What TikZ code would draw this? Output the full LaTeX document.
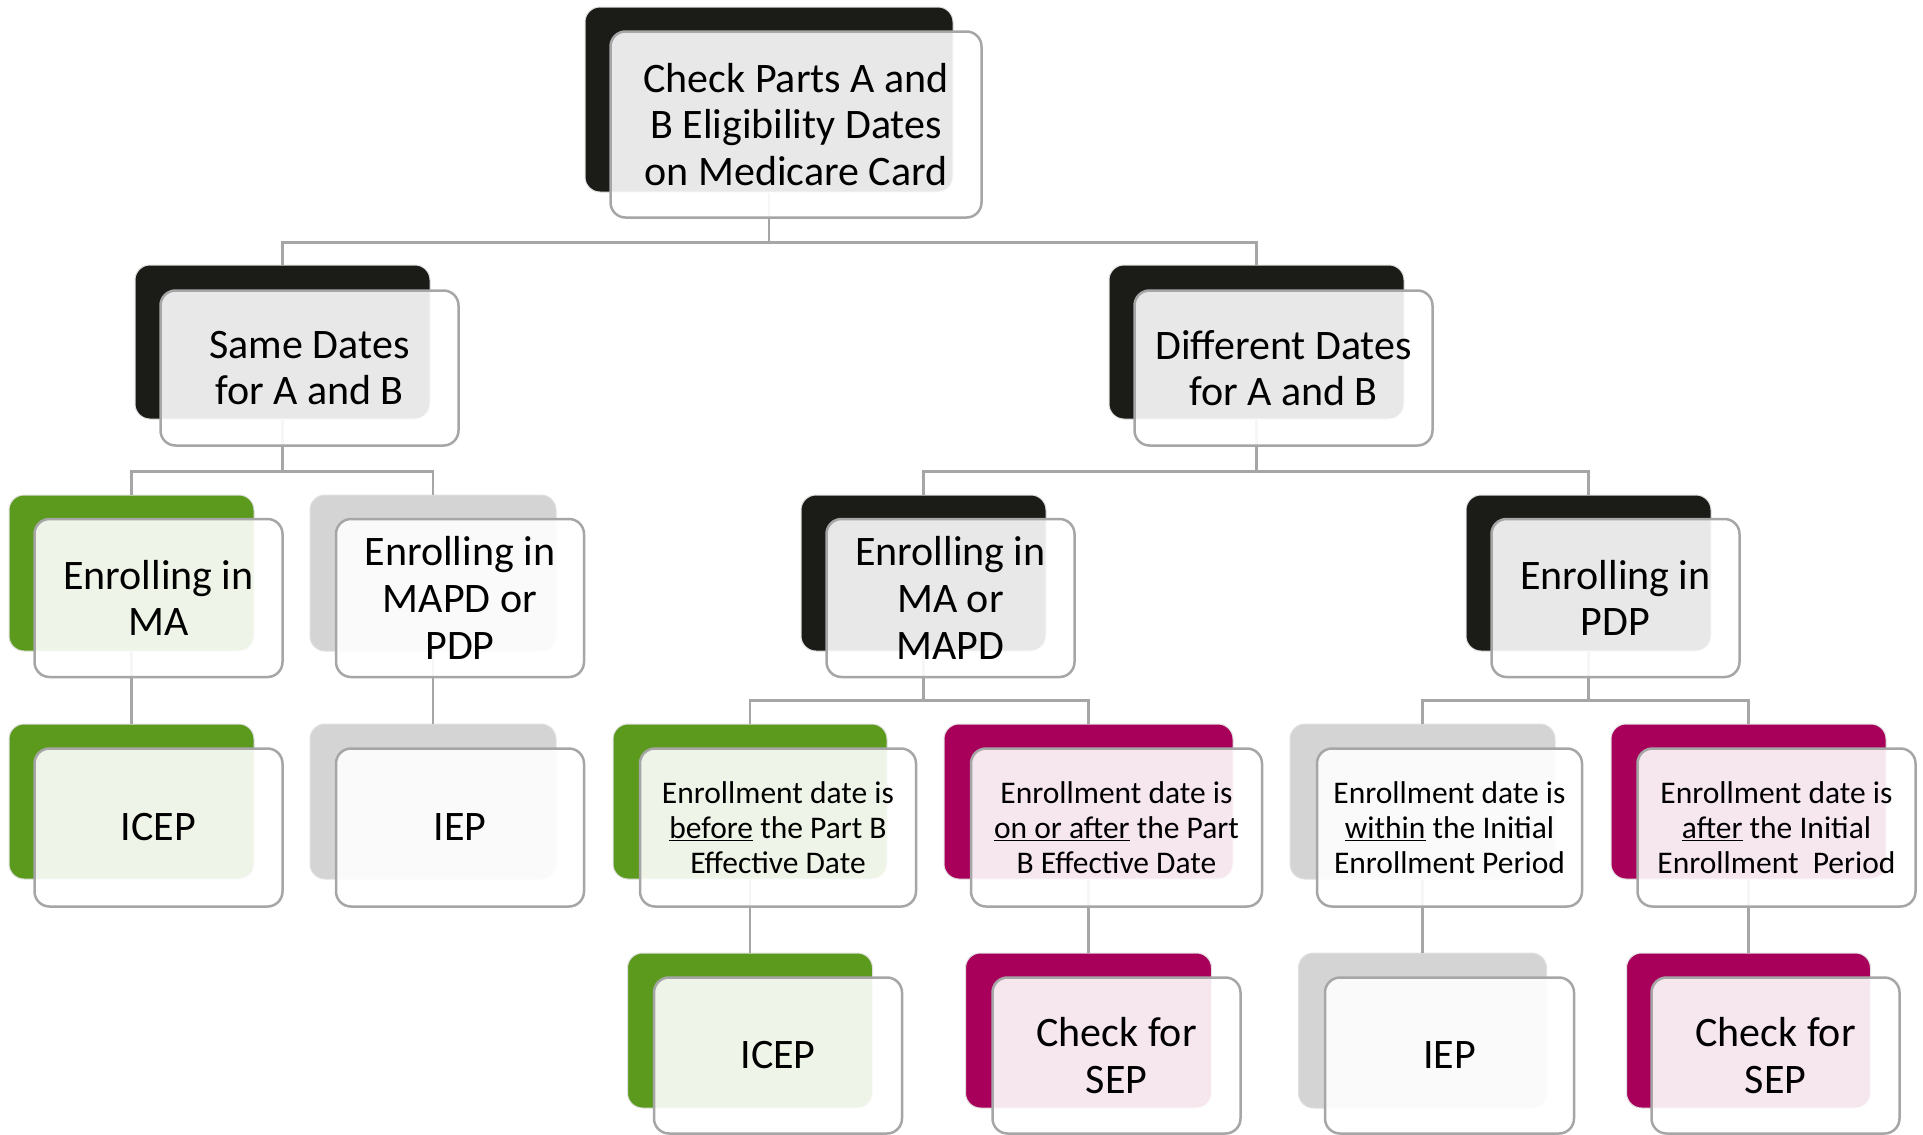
\documentclass[tikz,border=0pt]{standalone}
\usepackage{fontspec}
\setmainfont{Carlito}
\usetikzlibrary{positioning,calc}

\definecolor{cardblack}{HTML}{1B1B18}
\definecolor{cardgreen}{HTML}{5B9A1D}
\definecolor{cardpink}{HTML}{A8005A}
\definecolor{cardgray}{HTML}{D4D4D4}
\definecolor{rim}{HTML}{A6A6A6}

\begin{document}
\begin{tikzpicture}[x=1pt, y=-1pt,
  card/.style={rectangle, rounded corners=15pt, inner sep=0pt, draw=black!12, line width=1pt},
  face/.style={rectangle, rounded corners=15pt, draw=rim, line width=2.5pt, fill=white, fill opacity=0.9, text opacity=1, align=center, inner sep=0pt, font=\fontsize{42}{46.6}\selectfont},
  small/.style={font=\fontsize{31.5}{35}\selectfont},
  link/.style={draw=rim, line width=2.2pt}]
\useasboundingbox (0,0) rectangle (1923,1135);

% back cards
\node[card, fill=cardblack, minimum width=368pt, minimum height=185pt] (checkb) at (769,99.5) {};
\node[card, fill=cardblack, minimum width=295pt, minimum height=154pt] (sameb) at (282.5,342) {};
\node[card, fill=cardblack, minimum width=295pt, minimum height=154pt] (diffb) at (1256.5,342) {};
\node[card, fill=cardgreen, minimum width=245pt, minimum height=156pt] (mab) at (131.5,573) {};
\node[card, fill=cardgray, minimum width=246pt, minimum height=156pt] (mapdpdpb) at (433,573) {};
\node[card, fill=cardblack, minimum width=245pt, minimum height=156pt] (mamapdb) at (923.5,573) {};
\node[card, fill=cardblack, minimum width=245pt, minimum height=156pt] (pdpb) at (1588.5,573) {};
\node[card, fill=cardgreen, minimum width=245pt, minimum height=155pt] (icepb) at (131.5,801.5) {};
\node[card, fill=cardgray, minimum width=246pt, minimum height=155pt] (iepb) at (433,801.5) {};
\node[card, fill=cardgreen, minimum width=274pt, minimum height=155pt] (beforeb) at (750,801.5) {};
\node[card, fill=cardpink, minimum width=289pt, minimum height=155pt] (onafterb) at (1088.5,801.5) {};
\node[card, fill=cardgray, minimum width=265pt, minimum height=155pt] (withinb) at (1422.5,801.5) {};
\node[card, fill=cardpink, minimum width=275pt, minimum height=155pt] (afterb) at (1748.5,801.5) {};
\node[card, fill=cardgreen, minimum width=245pt, minimum height=155pt] (icepiib) at (750,1030.5) {};
\node[card, fill=cardpink, minimum width=246pt, minimum height=155pt] (sepb) at (1088.5,1030.5) {};
\node[card, fill=cardgray, minimum width=248pt, minimum height=155pt] (iepiib) at (1422.5,1030.5) {};
\node[card, fill=cardpink, minimum width=244pt, minimum height=155pt] (sepiib) at (1748.5,1030.5) {};

% connectors
\draw[link] (checkb.south) -- ++(0,50) -| (sameb.north);
\draw[link] (checkb.south) -- ++(0,50) -| (diffb.north);
\draw[link] (sameb.south) -- ++(0,52) -| (mab.north);
\draw[link] (sameb.south) -- ++(0,52) -| (mapdpdpb.north);
\draw[link] (diffb.south) -- ++(0,52) -| (mamapdb.north);
\draw[link] (diffb.south) -- ++(0,52) -| (pdpb.north);
\draw[link] (mab.south) -- (icepb.north);
\draw[link] (mapdpdpb.south) -- (iepb.north);
\draw[link] (mamapdb.south) -- ++(0,49) -| (beforeb.north);
\draw[link] (mamapdb.south) -- ++(0,49) -| (onafterb.north);
\draw[link] (pdpb.south) -- ++(0,49) -| (withinb.north);
\draw[link] (pdpb.south) -- ++(0,49) -| (afterb.north);
\draw[link] (beforeb.south) -- (icepiib.north);
\draw[link] (onafterb.south) -- (sepb.north);
\draw[link] (withinb.south) -- (iepiib.north);
\draw[link] (afterb.south) -- (sepiib.north);

% front cards
\node[face, minimum width=371pt, minimum height=186pt] (check) at ($(checkb)+(27,25)$) {Check Parts A and\\B Eligibility Dates\\on Medicare Card};
\node[face, minimum width=298pt, minimum height=155pt] (same) at ($(sameb)+(27,26)$) {Same Dates\\for A and B};
\node[face, minimum width=298pt, minimum height=155pt] (diff) at ($(diffb)+(27,26)$) {Different Dates\\for A and B};
\node[face, minimum width=248pt, minimum height=158pt] (ma) at ($(mab)+(27,25)$) {Enrolling in\\MA};
\node[face, minimum width=248pt, minimum height=158pt] (mapdpdp) at ($(mapdpdpb)+(27,25)$) {Enrolling in\\MAPD or\\PDP};
\node[face, minimum width=248pt, minimum height=158pt] (mamapd) at ($(mamapdb)+(27,25)$) {Enrolling in\\MA or\\MAPD};
\node[face, minimum width=248pt, minimum height=158pt] (pdp) at ($(pdpb)+(27,25)$) {Enrolling in\\PDP};
\node[face, minimum width=248pt, minimum height=158pt] (icep) at ($(icepb)+(27,26)$) {ICEP};
\node[face, minimum width=248pt, minimum height=158pt] (iep) at ($(iepb)+(27,26)$) {IEP};
\node[face, small, minimum width=276pt, minimum height=158pt] (before) at ($(beforeb)+(28,26)$) {Enrollment date is\\\underline{before} the Part B\\Effective Date};
\node[face, small, minimum width=291pt, minimum height=158pt] (onafter) at ($(onafterb)+(28,26)$) {Enrollment date is\\\underline{on or after} the Part\\B Effective Date};
\node[face, small, minimum width=265pt, minimum height=158pt] (within) at ($(withinb)+(27,26)$) {Enrollment date is\\\underline{within} the Initial\\Enrollment Period};
\node[face, small, minimum width=278pt, minimum height=158pt] (after) at ($(afterb)+(28,26)$) {Enrollment date is\\\underline{after} the Initial\\Enrollment\ \ Period};
\node[face, minimum width=248pt, minimum height=156pt] (icepii) at ($(icepiib)+(28,25)$) {ICEP};
\node[face, minimum width=248pt, minimum height=156pt] (sep) at ($(sepb)+(28,25)$) {Check for\\SEP};
\node[face, minimum width=249pt, minimum height=156pt] (iepii) at ($(iepiib)+(27,25)$) {IEP};
\node[face, minimum width=248pt, minimum height=156pt] (sepii) at ($(sepiib)+(27,25)$) {Check for\\SEP};
\end{tikzpicture}
\end{document}
